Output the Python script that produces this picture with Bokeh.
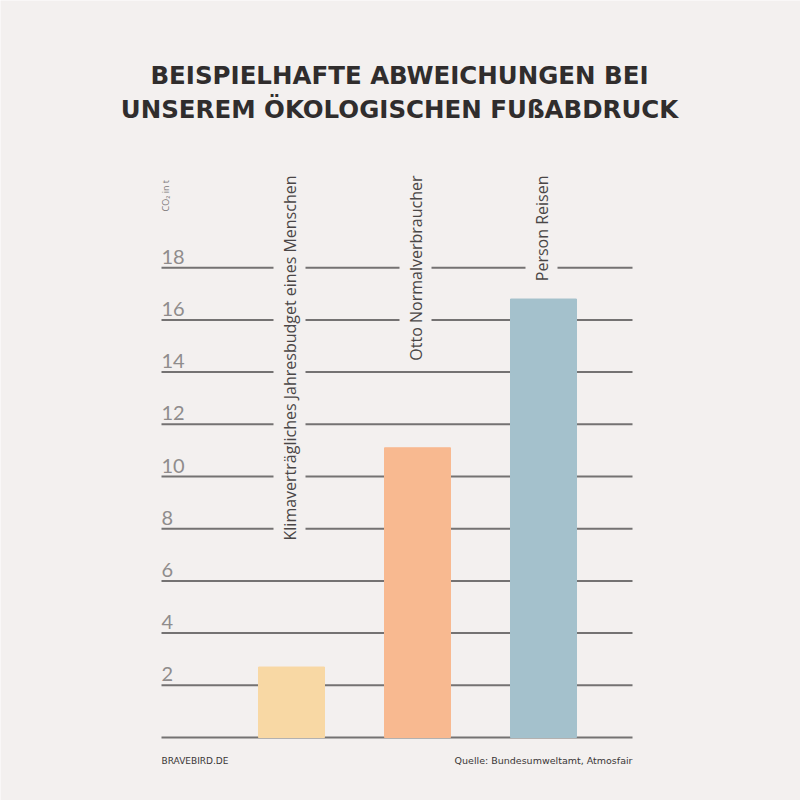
import math
from bokeh.plotting import figure
from bokeh.models import ColumnDataSource, Range1d, Label
from bokeh.core.properties import value
from bokeh.embed import file_html
from bokeh.resources import INLINE

# ---- data ----
categories = ["Klimaverträgliches Jahresbudget eines Menschen",
              "Otto Normalverbraucher",
              "Person Reisen"]
values = [2.7, 11.1, 16.8]
bar_colors = ["#f8d8a4", "#f8b990", "#a4c1cc"]
tick_values = [0, 2, 4, 6, 8, 10, 12, 14, 16, 18]
tick_labels = ["", "2", "4", "6", "8", "10", "12", "14", "16", "18"]
title_lines = ["BEISPIELHAFTE ABWEICHUNGEN BEI", "UNSEREM ÖKOLOGISCHEN FUßABDRUCK"]
unit_label = "CO₂ in t"
brand = "BRAVEBIRD.DE"
source_note = "Quelle: Bundesumweltamt, Atmosfair"

BG = "#f3f0ef"
W = H = 800
PX_PER_UNIT = 26.1
Y0_PX = 737
PX_PER_CAT = 126
X0_PX = 165

y_start = -(H - Y0_PX) / PX_PER_UNIT
y_end = Y0_PX / PX_PER_UNIT
x_start = -X0_PX / PX_PER_CAT
x_end = (W - X0_PX) / PX_PER_CAT

p = figure(width=W, height=H, output_backend="svg", toolbar_location=None,
           x_axis_type=None, y_axis_type=None,
           x_range=Range1d(x_start, x_end), y_range=Range1d(y_start, y_end),
           min_border=0, outline_line_color=None,
           background_fill_color=BG, border_fill_color=BG)

gx0 = (161 - X0_PX) / PX_PER_CAT
gx1 = (632 - X0_PX) / PX_PER_CAT

# grid lines
grid = ColumnDataSource(dict(y=tick_values, x0=[gx0] * len(tick_values),
                             x1=[gx1] * len(tick_values), lab=tick_labels))
p.segment(x0="x0", x1="x1", y0="y", y1="y", source=grid,
          line_color="#747272", line_width=2)

# tick labels
p.text(x="x0", y="y", text="lab", source=grid, text_align="left",
       text_baseline="bottom", y_offset=-4, text_color="#8f8c8c",
       text_font=value("Lato"), text_font_size="20px")

# bars
xs = [1, 2, 3]
bars = ColumnDataSource(dict(x=xs, top=values, color=bar_colors, name=categories,
                             ytop=[(Y0_PX - 170) / PX_PER_UNIT] * 3))
p.vbar(x="x", top="top", bottom=0, width=66 / PX_PER_CAT, color="color", source=bars)

# category labels (rotated)
p.text(x="x", y="ytop", text="name", source=bars, angle=math.pi / 2,
       text_align="right", text_baseline="middle", x_offset=-2,
       text_color="#4a4646", text_font=value("Open Sans"), text_font_size="16px",
       background_fill_color=BG, padding=5)

# unit label
p.add_layout(Label(x=165, y=H - 211, x_units="screen", y_units="screen",
                   text=unit_label, angle=math.pi / 2, text_align="left",
                   text_baseline="middle", text_color="#7a7777",
                   text_font="Open Sans", text_font_size="9px"))

# title
for i, t in enumerate(title_lines):
    p.add_layout(Label(x=399, y=H - 75 - i * 34, x_units="screen", y_units="screen",
                       text=t, text_align="center", text_baseline="alphabetic",
                       text_color="#302d2d", text_font="DejaVu Sans",
                       text_font_style="bold", text_font_size="24.5px"))

# footer
p.add_layout(Label(x=161, y=H - 760, x_units="screen", y_units="screen",
                   text=brand, text_align="left", text_baseline="alphabetic",
                   text_color="#3a3636", text_font="DejaVu Sans",
                   text_font_size="9px"))
p.add_layout(Label(x=632, y=H - 760, x_units="screen", y_units="screen",
                   text=source_note, text_align="right", text_baseline="alphabetic",
                   text_color="#3a3636", text_font="DejaVu Sans",
                   text_font_size="9.5px"))

open("out.html", "w").write(file_html(p, INLINE))
